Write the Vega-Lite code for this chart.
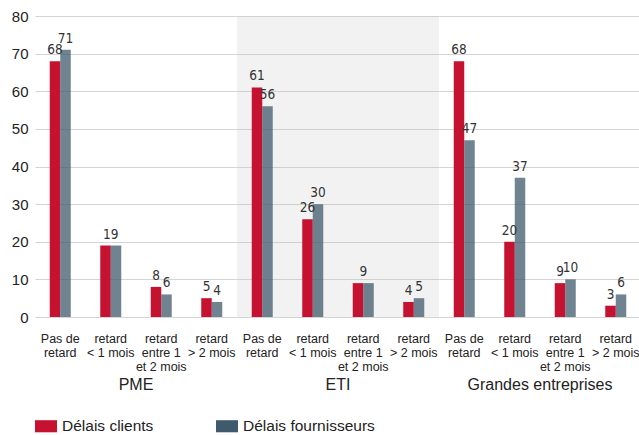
{
  "$schema": "https://vega.github.io/schema/vega-lite/v6.json",
  "padding": {"left": 11, "top": 9, "right": 0, "bottom": 0},
  "data": {"values": [
    {"group": "PME", "cat": "Pas de retard", "series": "Délais clients", "value": 68},
    {"group": "PME", "cat": "Pas de retard", "series": "Délais fournisseurs", "value": 71},
    {"group": "PME", "cat": "retard < 1 mois", "series": "Délais clients", "value": 19},
    {"group": "PME", "cat": "retard < 1 mois", "series": "Délais fournisseurs", "value": 19},
    {"group": "PME", "cat": "retard entre 1 et 2 mois", "series": "Délais clients", "value": 8},
    {"group": "PME", "cat": "retard entre 1 et 2 mois", "series": "Délais fournisseurs", "value": 6},
    {"group": "PME", "cat": "retard > 2 mois", "series": "Délais clients", "value": 5},
    {"group": "PME", "cat": "retard > 2 mois", "series": "Délais fournisseurs", "value": 4},
    {"group": "ETI", "cat": "Pas de retard", "series": "Délais clients", "value": 61},
    {"group": "ETI", "cat": "Pas de retard", "series": "Délais fournisseurs", "value": 56},
    {"group": "ETI", "cat": "retard < 1 mois", "series": "Délais clients", "value": 26},
    {"group": "ETI", "cat": "retard < 1 mois", "series": "Délais fournisseurs", "value": 30},
    {"group": "ETI", "cat": "retard entre 1 et 2 mois", "series": "Délais clients", "value": 9},
    {"group": "ETI", "cat": "retard entre 1 et 2 mois", "series": "Délais fournisseurs", "value": 9},
    {"group": "ETI", "cat": "retard > 2 mois", "series": "Délais clients", "value": 4},
    {"group": "ETI", "cat": "retard > 2 mois", "series": "Délais fournisseurs", "value": 5},
    {"group": "Grandes entreprises", "cat": "Pas de retard", "series": "Délais clients", "value": 68},
    {"group": "Grandes entreprises", "cat": "Pas de retard", "series": "Délais fournisseurs", "value": 47},
    {"group": "Grandes entreprises", "cat": "retard < 1 mois", "series": "Délais clients", "value": 20},
    {"group": "Grandes entreprises", "cat": "retard < 1 mois", "series": "Délais fournisseurs", "value": 37},
    {"group": "Grandes entreprises", "cat": "retard entre 1 et 2 mois", "series": "Délais clients", "value": 9},
    {"group": "Grandes entreprises", "cat": "retard entre 1 et 2 mois", "series": "Délais fournisseurs", "value": 10},
    {"group": "Grandes entreprises", "cat": "retard > 2 mois", "series": "Délais clients", "value": 3},
    {"group": "Grandes entreprises", "cat": "retard > 2 mois", "series": "Délais fournisseurs", "value": 6}
  ]},
  "facet": {
    "column": {
      "field": "group", "type": "nominal",
      "sort": ["PME", "ETI", "Grandes entreprises"],
      "header": {"title": null, "labelOrient": "bottom", "labelFont": "Liberation Sans", "labelFontSize": 16, "labelColor": "#222222", "labelPadding": 4}
    }
  },
  "spacing": 0,
  "spec": {
    "width": 202,
    "height": 301,
    "transform": [
      {"joinaggregate": [{"op": "min", "field": "value", "as": "mn"}, {"op": "max", "field": "value", "as": "mx"}], "groupby": ["group", "cat"]}
    ],
    "encoding": {
      "x": {
        "field": "cat", "type": "nominal",
        "sort": ["Pas de retard", "retard < 1 mois", "retard entre 1 et 2 mois", "retard > 2 mois"],
        "scale": {"paddingInner": 0.584, "paddingOuter": 0.292},
        "axis": {
          "title": null, "domain": false, "ticks": false, "labelAngle": 0,
          "labelFont": "Liberation Sans", "labelFontSize": 12.5, "labelColor": "#222222",
          "labelPadding": 15, "labelLineHeight": 14, "labelBaseline": "top",
          "labelExpr": "datum.label == 'Pas de retard' ? ['Pas de','retard'] : datum.label == 'retard < 1 mois' ? ['retard','< 1 mois'] : datum.label == 'retard > 2 mois' ? ['retard','> 2 mois'] : ['retard','entre 1','et 2 mois']"
        }
      },
      "y": {
        "field": "value", "type": "quantitative",
        "scale": {"domain": [0, 80], "nice": false},
        "axis": {
          "title": null, "domain": false, "ticks": false, "values": [0, 10, 20, 30, 40, 50, 60, 70, 80],
          "labelFont": "Liberation Sans", "labelFontSize": 15, "labelColor": "#222222", "labelPadding": 7,
          "gridColor": "#d4d4d4", "gridWidth": 1
        }
      }
    },
    "layer": [
      {
        "transform": [{"filter": "datum.group === 'ETI' && datum.series === 'Délais clients' && datum.cat === 'Pas de retard'"}],
        "mark": {"type": "rect", "fill": "#bfbfbf", "opacity": 0.2},
        "encoding": {"x": null, "y": {"datum": 0}, "y2": {"datum": 80}}
      },
      {
        "mark": {"type": "bar"},
        "encoding": {
          "xOffset": {"field": "series", "type": "nominal", "scale": {"paddingInner": 0, "paddingOuter": 0}},
          "opacity": {"condition": {"test": "datum.series === 'Délais fournisseurs'", "value": 0.75}, "value": 1},
          "color": {
            "field": "series", "type": "nominal",
            "scale": {"domain": ["Délais clients", "Délais fournisseurs"], "range": ["#c41230", "#3f5a6c"]},
            "legend": {
              "title": null, "orient": "bottom", "direction": "horizontal",
              "labelFont": "Liberation Sans", "labelFontSize": 15.5, "labelColor": "#222222",
              "symbolType": "M-1,-0.55H1V0.55H-1Z", "symbolSize": 484, "symbolStrokeWidth": 0, "symbolOpacity": 1,
              "columnPadding": 62, "labelOffset": 5, "offset": 22
            }
          }
        }
      },
      {
        "transform": [{"filter": "datum.mn != datum.mx"}],
        "mark": {"type": "text", "baseline": "bottom", "dy": -4, "font": "DejaVu Sans Condensed", "fontSize": 13.5, "color": "#333333"},
        "encoding": {
          "xOffset": {"field": "series", "type": "nominal", "scale": {"paddingInner": 0, "paddingOuter": 0}},
          "text": {"field": "value", "type": "quantitative"}
        }
      },
      {
        "transform": [{"filter": "datum.mn == datum.mx && datum.series === 'Délais clients'"}],
        "mark": {"type": "text", "baseline": "bottom", "dy": -4, "font": "DejaVu Sans Condensed", "fontSize": 13.5, "color": "#333333"},
        "encoding": {
          "text": {"field": "value", "type": "quantitative"}
        }
      }
    ]
  },
  "config": {
    "view": {"stroke": null},
    "background": "#ffffff"
  }
}
